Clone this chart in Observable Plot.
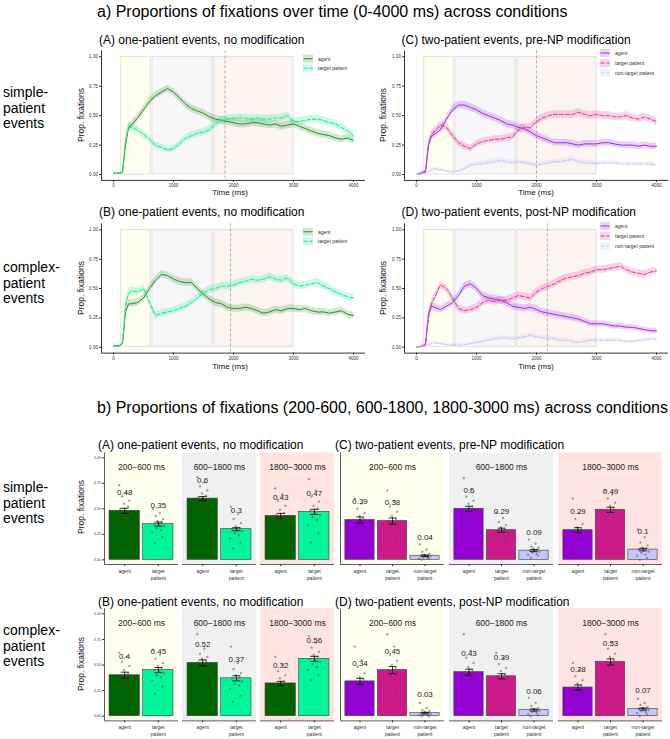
<!DOCTYPE html>
<html>
<head>
<meta charset="utf-8">
<script src="https://cdn.jsdelivr.net/npm/d3@7"></script>
<script src="https://cdn.jsdelivr.net/npm/@observablehq/plot@0.6"></script>
<style>
  body { margin: 0; background: #fff; font-family: "Liberation Sans", Arial, sans-serif; }
  #page { position: relative; width: 670px; height: 739px; overflow: hidden; background: #fff; }
  .t { position: absolute; white-space: nowrap; color: #000; line-height: 1; }
</style>
</head>
<body>
<div id="page"></div>
<script>
// ---------- time-course data (proportion of fixations, 0-4000 ms) ----------
const times = [0, 100, 150, 200, 250, 300, 400, 500, 600, 700, 800, 900, 1000, 1100, 1200, 1300, 1400, 1500,
  1600, 1700, 1800, 1900, 2000, 2100, 2200, 2300, 2400, 2500, 2600, 2700, 2800, 2900, 3000, 3100, 3200, 3300,
  3400, 3500, 3600, 3700, 3800, 3900, 4000];

// (A) simple-patient, one-patient events
const agentA  = [0.01, 0.01, 0.02, 0.25, 0.40, 0.42, 0.48, 0.55, 0.62, 0.67, 0.70, 0.73, 0.70, 0.65, 0.60, 0.56, 0.54, 0.52,
  0.49, 0.47, 0.46, 0.45, 0.44, 0.43, 0.43, 0.44, 0.44, 0.43, 0.42, 0.43, 0.41, 0.42, 0.43, 0.41, 0.39, 0.37,
  0.35, 0.34, 0.33, 0.31, 0.30, 0.31, 0.29];
const targetA = [0.01, 0.01, 0.02, 0.28, 0.40, 0.40, 0.38, 0.34, 0.30, 0.25, 0.23, 0.21, 0.22, 0.26, 0.31, 0.33, 0.35, 0.36,
  0.38, 0.43, 0.46, 0.47, 0.48, 0.48, 0.48, 0.47, 0.48, 0.47, 0.47, 0.48, 0.48, 0.50, 0.45, 0.45, 0.46, 0.47,
  0.47, 0.46, 0.44, 0.43, 0.40, 0.37, 0.33];

// (B) complex-patient, one-patient events
const agentB  = [0.01, 0.01, 0.03, 0.30, 0.37, 0.37, 0.38, 0.42, 0.50, 0.57, 0.62, 0.61, 0.58, 0.56, 0.55, 0.55, 0.50, 0.45,
  0.41, 0.38, 0.37, 0.34, 0.33, 0.33, 0.34, 0.33, 0.31, 0.29, 0.30, 0.32, 0.31, 0.33, 0.33, 0.32, 0.33, 0.31,
  0.30, 0.30, 0.29, 0.30, 0.31, 0.28, 0.27];
const targetB = [0.01, 0.01, 0.03, 0.35, 0.46, 0.48, 0.47, 0.50, 0.38, 0.27, 0.29, 0.30, 0.31, 0.33, 0.35, 0.38, 0.42, 0.46,
  0.49, 0.50, 0.52, 0.52, 0.53, 0.55, 0.56, 0.58, 0.57, 0.58, 0.60, 0.58, 0.57, 0.59, 0.54, 0.52, 0.53, 0.54,
  0.55, 0.52, 0.50, 0.47, 0.45, 0.43, 0.42];

// (C) simple-patient, two-patient events, pre-NP modification
const agentC  = [0.00, 0.01, 0.02, 0.25, 0.33, 0.34, 0.38, 0.47, 0.55, 0.59, 0.59, 0.57, 0.55, 0.52, 0.50, 0.48, 0.46, 0.43,
  0.42, 0.40, 0.39, 0.36, 0.33, 0.31, 0.29, 0.27, 0.27, 0.27, 0.26, 0.25, 0.26, 0.26, 0.26, 0.27, 0.27, 0.26,
  0.25, 0.25, 0.25, 0.24, 0.25, 0.24, 0.24];
const targetC = [0.00, 0.02, 0.03, 0.25, 0.33, 0.37, 0.42, 0.40, 0.33, 0.27, 0.24, 0.22, 0.26, 0.28, 0.29, 0.30, 0.30, 0.31,
  0.32, 0.38, 0.40, 0.40, 0.45, 0.48, 0.50, 0.51, 0.51, 0.51, 0.51, 0.53, 0.51, 0.50, 0.51, 0.50, 0.50, 0.49,
  0.49, 0.50, 0.48, 0.47, 0.49, 0.47, 0.45];
const otherC  = [0.00, 0.01, 0.01, 0.02, 0.04, 0.05, 0.04, 0.03, 0.02, 0.03, 0.05, 0.08, 0.09, 0.09, 0.10, 0.11, 0.12, 0.11,
  0.10, 0.11, 0.10, 0.09, 0.08, 0.09, 0.10, 0.11, 0.11, 0.12, 0.13, 0.11, 0.10, 0.10, 0.09, 0.10, 0.10, 0.10,
  0.09, 0.09, 0.09, 0.09, 0.09, 0.09, 0.08];

// (D) complex-patient, two-patient events, post-NP modification
const agentD  = [0.00, 0.01, 0.02, 0.28, 0.35, 0.34, 0.32, 0.35, 0.38, 0.44, 0.52, 0.54, 0.50, 0.44, 0.42, 0.41, 0.40, 0.38,
  0.35, 0.34, 0.33, 0.34, 0.32, 0.30, 0.29, 0.28, 0.27, 0.26, 0.25, 0.24, 0.22, 0.20, 0.20, 0.20, 0.19, 0.18,
  0.18, 0.17, 0.17, 0.16, 0.15, 0.14, 0.14];
const targetD = [0.00, 0.01, 0.02, 0.25, 0.37, 0.42, 0.53, 0.50, 0.42, 0.33, 0.31, 0.32, 0.34, 0.38, 0.40, 0.39, 0.40, 0.40,
  0.42, 0.44, 0.43, 0.42, 0.47, 0.50, 0.52, 0.54, 0.57, 0.59, 0.60, 0.61, 0.63, 0.64, 0.66, 0.66, 0.67, 0.68,
  0.69, 0.66, 0.64, 0.63, 0.62, 0.64, 0.65];
const otherD  = [0.00, 0.01, 0.01, 0.02, 0.03, 0.04, 0.03, 0.02, 0.02, 0.02, 0.02, 0.03, 0.04, 0.05, 0.06, 0.07, 0.08, 0.08,
  0.07, 0.08, 0.09, 0.10, 0.09, 0.08, 0.08, 0.07, 0.06, 0.06, 0.05, 0.04, 0.05, 0.06, 0.06, 0.06, 0.06, 0.06,
  0.06, 0.05, 0.05, 0.06, 0.06, 0.07, 0.07];

// analysis windows shaded on the time-course plots (ms) and NP onset per condition (ms)
const windowStart = [130, 650, 1680];
const windowEnd   = [620, 1650, 3000];
const npOnset = { A: 1860, B: 1950, C: 2000, D: 2180 };

// ---------- window means ----------
const barWindows = ["200\u2212600 ms", "600\u22121800 ms", "1800\u22123000 ms"];
const oneRoles = ["agent", "target patient"];
const twoRoles = ["agent", "target patient", "non-target patient"];
const oneRoleTicks = ["agent", "target\npatient"];
const twoRoleTicks = ["agent", "target\npatient", "non-target\npatient"];

const meansA = [[0.48, 0.35], [0.6, 0.3], [0.43, 0.47]];
const seA    = [[0.025, 0.02], [0.02, 0.015], [0.025, 0.025]];
const meansB = [[0.4, 0.45], [0.52, 0.37], [0.32, 0.56]];
const seB    = [[0.03, 0.025], [0.03, 0.025], [0.02, 0.025]];
const meansC = [[0.39, 0.38, 0.04], [0.5, 0.29, 0.09], [0.29, 0.49, 0.1]];
const seC    = [[0.03, 0.03, 0.008], [0.025, 0.02, 0.01], [0.025, 0.025, 0.012]];
const meansD = [[0.34, 0.45, 0.03], [0.43, 0.39, 0.06], [0.28, 0.53, 0.07]];
const seD    = [[0.03, 0.035, 0.008], [0.03, 0.025, 0.01], [0.025, 0.03, 0.01]];

// per-participant proportions behind each bar (window x role)
const subjA = [
  [[0.73, 0.66, 0.62, 0.58, 0.55, 0.52, 0.50, 0.48, 0.46, 0.44, 0.42, 0.38, 0.33, 0.25],
   [0.50, 0.46, 0.43, 0.40, 0.38, 0.37, 0.35, 0.34, 0.33, 0.31, 0.29, 0.27, 0.22, 0.16]],
  [[0.81, 0.76, 0.72, 0.68, 0.65, 0.63, 0.61, 0.60, 0.58, 0.56, 0.54, 0.51, 0.47, 0.42],
   [0.52, 0.45, 0.40, 0.36, 0.33, 0.31, 0.30, 0.29, 0.28, 0.26, 0.24, 0.21, 0.17, 0.11]],
  [[0.70, 0.64, 0.58, 0.53, 0.49, 0.46, 0.44, 0.42, 0.40, 0.37, 0.34, 0.29, 0.22, 0.16],
   [0.79, 0.68, 0.62, 0.57, 0.53, 0.50, 0.48, 0.46, 0.44, 0.42, 0.39, 0.34, 0.26, 0.17]]
];
const subjB = [
  [[0.62, 0.58, 0.53, 0.49, 0.45, 0.42, 0.40, 0.39, 0.37, 0.35, 0.32, 0.29, 0.24, 0.17],
   [0.65, 0.60, 0.56, 0.52, 0.49, 0.47, 0.45, 0.44, 0.42, 0.40, 0.38, 0.35, 0.29, 0.22]],
  [[0.80, 0.66, 0.61, 0.58, 0.56, 0.54, 0.53, 0.52, 0.50, 0.48, 0.46, 0.42, 0.32, 0.15],
   [0.68, 0.52, 0.46, 0.42, 0.40, 0.38, 0.37, 0.36, 0.34, 0.32, 0.30, 0.27, 0.20, 0.14]],
  [[0.58, 0.50, 0.44, 0.40, 0.37, 0.34, 0.32, 0.31, 0.29, 0.27, 0.25, 0.22, 0.17, 0.10],
   [0.78, 0.72, 0.67, 0.63, 0.60, 0.58, 0.56, 0.55, 0.53, 0.51, 0.48, 0.45, 0.40, 0.35]]
];
const subjC = [
  [[0.60, 0.55, 0.50, 0.46, 0.43, 0.41, 0.39, 0.38, 0.36, 0.33, 0.30, 0.26, 0.18, 0.05],
   [0.68, 0.58, 0.52, 0.47, 0.43, 0.40, 0.38, 0.37, 0.35, 0.32, 0.29, 0.25, 0.18, 0.10],
   [0.15, 0.10, 0.08, 0.06, 0.05, 0.04, 0.04, 0.03, 0.03, 0.02, 0.02, 0.01, 0.01, 0.00]],
  [[0.80, 0.68, 0.62, 0.58, 0.55, 0.52, 0.50, 0.49, 0.47, 0.45, 0.42, 0.39, 0.34, 0.28],
   [0.46, 0.41, 0.37, 0.34, 0.32, 0.30, 0.29, 0.28, 0.27, 0.25, 0.23, 0.21, 0.18, 0.15],
   [0.20, 0.16, 0.13, 0.12, 0.11, 0.10, 0.09, 0.09, 0.08, 0.07, 0.06, 0.05, 0.04, 0.02]],
  [[0.60, 0.46, 0.40, 0.35, 0.32, 0.30, 0.29, 0.28, 0.26, 0.24, 0.21, 0.17, 0.12, 0.05],
   [0.68, 0.64, 0.60, 0.56, 0.53, 0.51, 0.49, 0.48, 0.46, 0.44, 0.42, 0.39, 0.35, 0.30],
   [0.30, 0.22, 0.17, 0.14, 0.12, 0.11, 0.10, 0.09, 0.08, 0.07, 0.05, 0.04, 0.02, 0.00]]
];
const subjD = [
  [[0.68, 0.55, 0.48, 0.42, 0.38, 0.36, 0.34, 0.33, 0.31, 0.28, 0.25, 0.21, 0.16, 0.10],
   [0.80, 0.68, 0.60, 0.54, 0.50, 0.47, 0.45, 0.44, 0.42, 0.39, 0.36, 0.32, 0.25, 0.15],
   [0.13, 0.08, 0.06, 0.05, 0.04, 0.03, 0.03, 0.03, 0.02, 0.02, 0.01, 0.01, 0.00, 0.00]],
  [[0.80, 0.64, 0.57, 0.52, 0.48, 0.45, 0.43, 0.42, 0.40, 0.37, 0.34, 0.30, 0.26, 0.20],
   [0.62, 0.56, 0.51, 0.47, 0.44, 0.41, 0.39, 0.38, 0.36, 0.34, 0.32, 0.29, 0.25, 0.20],
   [0.18, 0.13, 0.10, 0.08, 0.07, 0.06, 0.06, 0.05, 0.05, 0.04, 0.03, 0.02, 0.01, 0.00]],
  [[0.52, 0.45, 0.39, 0.35, 0.32, 0.30, 0.28, 0.27, 0.25, 0.23, 0.20, 0.17, 0.12, 0.05],
   [0.80, 0.72, 0.66, 0.61, 0.58, 0.55, 0.53, 0.52, 0.50, 0.48, 0.46, 0.43, 0.39, 0.35],
   [0.17, 0.13, 0.11, 0.09, 0.08, 0.07, 0.07, 0.06, 0.06, 0.05, 0.04, 0.03, 0.02, 0.00]]
];

// ---------- styling ----------
const FONT = "Liberation Sans, Arial, Helvetica, sans-serif";
const lineWindowFills = ["#fefef1", "#f7f7f9", "#fbf4f1"];
const barWindowFills = ["#fffff0", "#f0f0f0", "#ffe4e1"];
const greenLine = { agent: "#2e8b2e", target: "#14e88e" };
const purpleLine = { agent: "#a12ee0", target: "#e0389a", other: "#c4c4fb" };
const greenBar = ["#006400", "#00f59a"];
const purpleBar = ["#9400d3", "#cc1a88", "#c6c6fa"];
// horizontal spread of the participant points around each bar centre (band units)
const jitterSpread = [-0.16, 0.05, -0.08, 0.14, -0.02, 0.10, -0.13, 0.02, 0.17, -0.05, 0.08, -0.18, 0.12, -0.10];

const page = document.getElementById("page");

function text(str, x, y, size, opts = {}) {
  const d = document.createElement("div");
  d.className = "t";
  d.textContent = str;
  d.style.fontSize = size + "px";
  d.style.left = x + "px";
  d.style.top = y + "px";
  if (opts.color) d.style.color = opts.color;
  if (opts.rotate) d.style.transform = "translate(-50%,-50%) rotate(-90deg)";
  else d.style.transform = opts.anchor === "middle" ? "translate(-50%,-50%)" : "translate(0,-50%)";
  page.appendChild(d);
}

function put(node, left, top) {
  node.style.position = "absolute";
  node.style.left = left + "px";
  node.style.top = top + "px";
  page.appendChild(node);
}

// ---------- time-course panels ----------
const xDom = [-200, 4200];
const yDom = [-0.05, 1.05];
const shadeRows = windowStart.map((s, k) => ({ start: s, end: windowEnd[k], fill: lineWindowFills[k] }));

function linePanel({ left, top, width, height, frame, series, marker }) {
  const marks = [
    Plot.rect(shadeRows, { x1: "start", x2: "end", y1: 0, y2: 1, fill: "fill", stroke: "#d6d6d6", strokeWidth: 0.7 }),
    Plot.ruleX([marker], { stroke: "#a0a0a0", strokeWidth: 0.8, strokeDasharray: "3,2" })
  ];
  for (const s of series) {
    marks.push(Plot.areaY(times, {
      x: d => d,
      y1: (d, i) => s.values[i] - s.band * Math.sqrt(s.values[i] * (1 - s.values[i])),
      y2: (d, i) => s.values[i] + s.band * Math.sqrt(s.values[i] * (1 - s.values[i])),
      fill: s.color, fillOpacity: 0.22
    }));
  }
  for (const s of series) {
    marks.push(Plot.lineY(times, {
      x: d => d, y: (d, i) => s.values[i],
      stroke: s.color, strokeWidth: 1, strokeDasharray: s.dash
    }));
  }
  marks.push(Plot.ruleX([xDom[0]], { stroke: "#000", strokeWidth: 0.8 }));
  marks.push(Plot.ruleY([yDom[0]], { stroke: "#000", strokeWidth: 0.8 }));
  const svg = Plot.plot({
    width, height,
    marginLeft: frame[0] - left, marginRight: left + width - frame[1],
    marginTop: frame[2] - top, marginBottom: top + height - frame[3],
    style: { background: "transparent", fontFamily: FONT, fontSize: "4.6px", color: "#333", overflow: "visible" },
    color: { type: "identity" },
    x: { domain: xDom, ticks: [0, 1000, 2000, 3000, 4000], tickFormat: d => String(d), tickSize: 2, tickPadding: 1.5, label: null },
    y: { domain: yDom, ticks: [0, 0.25, 0.5, 0.75, 1], tickFormat: d3.format(".2f"), tickSize: 2, tickPadding: 1.5, label: null },
    marks
  });
  put(svg, left, top);
}

function legend(x, y, entries, step) {
  const w = 80, h = entries.length * step + 4;
  const svg = d3.create("svg").attr("width", w).attr("height", h)
    .style("font-family", FONT).style("overflow", "visible");
  entries.forEach((e, k) => {
    const cy = 2 + step * k + step / 2;
    svg.append("rect").attr("x", 0).attr("y", cy - 4).attr("width", 10).attr("height", 8)
      .attr("fill", e.color).attr("fill-opacity", 0.22);
    svg.append("line").attr("x1", 0.5).attr("x2", 9.5).attr("y1", cy).attr("y2", cy)
      .attr("stroke", e.color).attr("stroke-width", 1).attr("stroke-dasharray", e.dash || null);
    svg.append("text").attr("x", 15).attr("y", cy).attr("dy", "0.35em")
      .attr("font-size", 5).attr("fill", "#333").text(e.name);
  });
  put(svg.node(), x, y - step / 2 - 2);
}

const oneSeries = (ag, tg) => [
  { name: "agent", values: ag, color: greenLine.agent, band: 0.065, dash: null },
  { name: "target patient", values: tg, color: greenLine.target, band: 0.065, dash: "4,2" }
];
const twoSeries = (ag, tg, ot) => [
  { name: "agent", values: ag, color: purpleLine.agent, band: 0.065, dash: null },
  { name: "target patient", values: tg, color: purpleLine.target, band: 0.065, dash: "4,2" },
  { name: "non-target patient", values: ot, color: purpleLine.other, band: 0.065, dash: "4,2" }
];

linePanel({ left: 55, top: 44, width: 317, height: 156, frame: [101, 365, 50.4, 179.9], series: oneSeries(agentA, targetA), marker: npOnset.A });
linePanel({ left: 370, top: 44, width: 300, height: 156, frame: [404, 668, 50.4, 179.9], series: twoSeries(agentC, targetC, otherC), marker: npOnset.C });
linePanel({ left: 55, top: 218, width: 317, height: 150, frame: [101, 365, 223.4, 352.6], series: oneSeries(agentB, targetB), marker: npOnset.B });
linePanel({ left: 370, top: 218, width: 300, height: 150, frame: [404, 668, 223.4, 352.6], series: twoSeries(agentD, targetD, otherD), marker: npOnset.D });

legend(303, 59, oneSeries(agentA, targetA), 9.5);
legend(303, 232, oneSeries(agentB, targetB), 9.5);
legend(600, 53, twoSeries(agentC, targetC, otherC), 10);
legend(600, 225.5, twoSeries(agentD, targetD, otherD), 10);

// ---------- window-mean bar panels ----------
const byDom = [-0.046, 1.049];

function barPanel({ left, top, width, height, frame, roles, ticks, means, ses, subj, colors, yAxis }) {
  const n = roles.length;
  const bxDom = [-0.6, n - 0.4];
  const rows = [], pts = [];
  barWindows.forEach((w, j) => roles.forEach((r, i) => {
    rows.push({ win: w, i, role: r, v: means[j][i], se: ses[j][i], color: colors[i] });
    subj[j][i].forEach((p, k) => pts.push({ win: w, i, k, p }));
  }));
  const wins = barWindows.map((w, j) => ({ win: w, bg: barWindowFills[j] }));
  const marks = [
    Plot.rect(wins, { fx: "win", x1: () => bxDom[0], x2: () => bxDom[1], y1: () => byDom[0], y2: () => byDom[1], fill: "bg" }),
    Plot.text(wins, { fx: "win", text: "win", frameAnchor: "top", dy: 10.7, fontSize: 8.5, fill: "#1a1a1a" }),
    Plot.rect(rows, { fx: "win", x1: d => d.i - 0.45, x2: d => d.i + 0.45, y1: 0, y2: "v", fill: "color", stroke: "#3a3a3a", strokeWidth: 0.6 }),
    Plot.dot(pts, { fx: "win", x: d => d.i + jitterSpread[d.k % jitterSpread.length], y: "p", r: 1, fill: "#444", fillOpacity: 0.5, stroke: "#666", strokeOpacity: 0.4, strokeWidth: 0.4 }),
    Plot.ruleX(rows, { fx: "win", x: "i", y1: d => d.v - d.se, y2: d => d.v + d.se, stroke: "#000", strokeWidth: 0.8 }),
    Plot.link(rows, { fx: "win", x1: d => d.i - 0.12, x2: d => d.i + 0.12, y1: d => d.v + d.se, y2: d => d.v + d.se, stroke: "#000", strokeWidth: 0.8 }),
    Plot.link(rows, { fx: "win", x1: d => d.i - 0.12, x2: d => d.i + 0.12, y1: d => d.v - d.se, y2: d => d.v - d.se, stroke: "#000", strokeWidth: 0.8 }),
    Plot.text(rows, { fx: "win", x: "i", y: d => d.v + 0.18, text: d => String(d.v), fontSize: 8, fill: "#222" }),
    Plot.ruleY([byDom[0]], { stroke: "#333", strokeWidth: 0.8 }),
    Plot.ruleX([barWindows[0]], { fx: d => d, x: () => bxDom[0], stroke: "#333", strokeWidth: 0.8 }),
    Plot.axisX(d3.range(n), { tickFormat: i => ticks[i], tickSize: 2, tickPadding: 1.5, fontSize: 5, lineHeight: 1.35, label: null, stroke: "#333" })
  ];
  if (yAxis) marks.push(Plot.axisY([0, 0.25, 0.5, 0.75, 1], { tickFormat: d3.format(".2f"), tickSize: 2, tickPadding: 1.5, fontSize: 3.6, label: null }));
  const svg = Plot.plot({
    width, height,
    marginLeft: frame[0] - left, marginRight: left + width - frame[1],
    marginTop: frame[2] - top, marginBottom: top + height - frame[3],
    style: { background: "transparent", fontFamily: FONT, fontSize: "5px", color: "#333", overflow: "visible" },
    color: { type: "identity" },
    fx: { domain: barWindows, paddingInner: 0.045, paddingOuter: 0, axis: null, label: null },
    x: { domain: bxDom, axis: null },
    y: { domain: byDom, axis: null },
    marks
  });
  put(svg, left, top);
}

barPanel({ left: 60, top: 448, width: 278, height: 140, frame: [103, 335, 452.3, 564], roles: oneRoles, ticks: oneRoleTicks, means: meansA, ses: seA, subj: subjA, colors: greenBar, yAxis: true });
barPanel({ left: 336, top: 448, width: 334, height: 140, frame: [339, 664, 452.3, 564], roles: twoRoles, ticks: twoRoleTicks, means: meansC, ses: seC, subj: subjC, colors: purpleBar, yAxis: false });
barPanel({ left: 60, top: 604, width: 278, height: 135, frame: [103, 335, 608.3, 720.4], roles: oneRoles, ticks: oneRoleTicks, means: meansB, ses: seB, subj: subjB, colors: greenBar, yAxis: true });
barPanel({ left: 336, top: 604, width: 334, height: 135, frame: [339, 664, 608.3, 720.4], roles: twoRoles, ticks: twoRoleTicks, means: meansD, ses: seD, subj: subjD, colors: purpleBar, yAxis: false });

// ---------- titles and labels ----------
text("a) Proportions of fixations over time (0-4000 ms) across conditions", 97, 11.5, 16);
text("b) Proportions of fixations (200-600, 600-1800, 1800-3000 ms) across conditions", 97, 408, 16);

text("(A) one-patient events, no modification", 99, 40, 12);
text("(C) two-patient events, pre-NP modification", 401.5, 40, 12);
text("(B) one-patient events, no modification", 99, 212, 12);
text("(D) two-patient events, post-NP modification", 401.5, 212, 12);

text("(A) one-patient events, no modification", 98, 445, 12);
text("(C) two-patient events, pre-NP modification", 335, 445, 12);
text("(B) one-patient events, no modification", 98, 602, 12);
text("(D) two-patient events, post-NP modification", 335, 602, 12);

[["simple-", "patient", "events", 92], ["complex-", "patient", "events", 267],
 ["simple-", "patient", "events", 487], ["complex-", "patient", "events", 630]].forEach(([a, b, c, y]) => {
  text(a, 3, y, 14); text(b, 3, y + 15.6, 14); text(c, 3, y + 31.2, 14);
});

// axis titles
text("Prop. fixations", 80.5, 115, 8.5, { rotate: true, color: "#111" });
text("Prop. fixations", 383, 115, 8.5, { rotate: true, color: "#111" });
text("Prop. fixations", 80.5, 288, 8.5, { rotate: true, color: "#111" });
text("Prop. fixations", 383, 288, 8.5, { rotate: true, color: "#111" });
text("Time (ms)", 230, 193, 8, { anchor: "middle", color: "#111" });
text("Time (ms)", 536, 193, 8, { anchor: "middle", color: "#111" });
text("Time (ms)", 230, 366.5, 8, { anchor: "middle", color: "#111" });
text("Time (ms)", 536, 366.5, 8, { anchor: "middle", color: "#111" });
text("Prop. fixations", 80.5, 507, 8.5, { rotate: true, color: "#111" });
text("Prop. fixations", 80.5, 664, 8.5, { rotate: true, color: "#111" });
</script>
</body>
</html>
